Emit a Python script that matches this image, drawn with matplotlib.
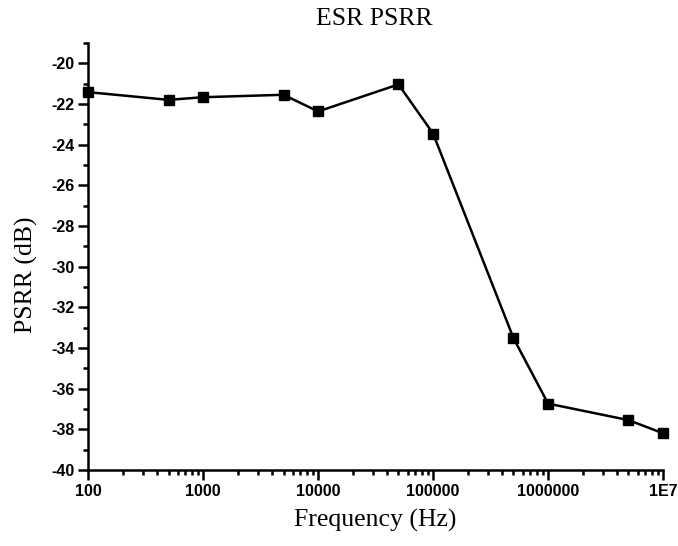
import matplotlib
matplotlib.use("Agg")
import matplotlib.pyplot as plt
from matplotlib.ticker import LogLocator, MultipleLocator, FixedLocator, FixedFormatter, NullFormatter

plt.rcParams["axes.unicode_minus"] = False

freq = [100, 500, 1000, 5000, 10000, 50000, 100000, 500000, 1000000, 5000000, 10000000]
psrr = [-21.41, -21.79, -21.66, -21.54, -22.36, -21.03, -23.45, -33.51, -36.73, -37.54, -38.19]
xtick_vals = [100, 1000, 10000, 100000, 1000000, 10000000]
xtick_labels = ["100", "1000", "10000", "100000", "1000000", "1E7"]

fig = plt.figure(figsize=(6.78, 5.46), dpi=100)
ax = fig.add_axes([0.130, 0.139, 0.848, 0.782])
ax.plot(freq, psrr, color="black", lw=1.8, marker="s", ms=7, mfc="black", mec="black", clip_on=False, zorder=3)
ax.set_xscale("log")
ax.set_xlim(100, 1e7)
ax.set_ylim(-40, -19)

ax.xaxis.set_major_locator(FixedLocator(xtick_vals))
ax.xaxis.set_major_formatter(FixedFormatter(xtick_labels))
ax.xaxis.set_minor_locator(LogLocator(base=10, subs=range(2, 10), numticks=20))
ax.xaxis.set_minor_formatter(NullFormatter())
ax.set_yticks(range(-40, -19, 2))
ax.yaxis.set_minor_locator(MultipleLocator(1))

for s in ["top", "right"]:
    ax.spines[s].set_visible(False)
for s in ["left", "bottom"]:
    ax.spines[s].set_linewidth(1.8)

ax.tick_params(axis="both", which="major", direction="out", length=7, width=1.8, pad=3)
ax.tick_params(axis="both", which="minor", direction="out", length=3.8, width=1.8)
for lab in ax.get_xticklabels() + ax.get_yticklabels():
    lab.set_fontfamily("Liberation Sans")
    lab.set_fontweight("bold")
    lab.set_fontsize(11.5)

ax.set_xlabel("Frequency (Hz)", fontfamily="Liberation Serif", fontsize=18.5, labelpad=7)
ax.set_ylabel("PSRR (dB)", fontfamily="Liberation Serif", fontsize=18.5)
ax.yaxis.set_label_coords(-0.088, 0.457)
fig.text(0.552, 0.965, "ESR PSRR", ha="center", va="center", fontfamily="Liberation Serif", fontsize=18.5)

fig.savefig("out.png", dpi=100)
